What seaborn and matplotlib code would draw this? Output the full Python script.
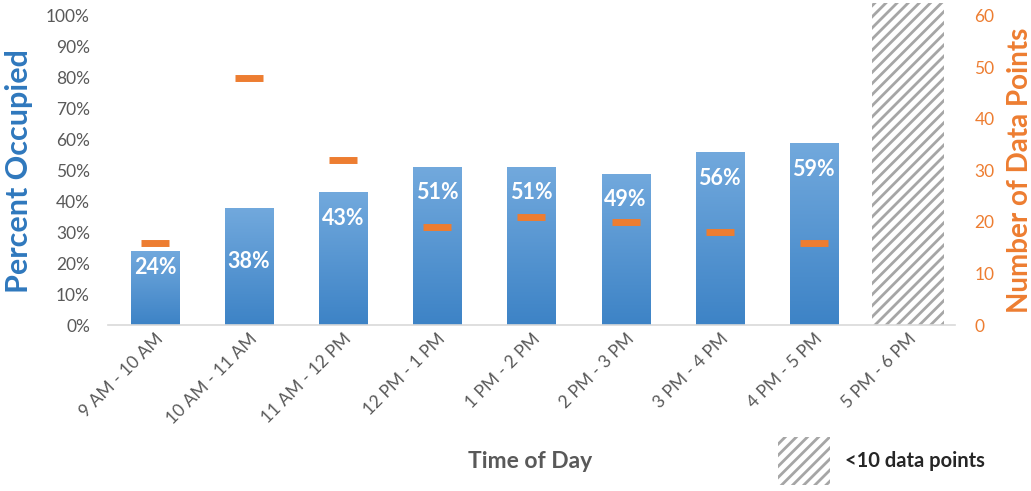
import numpy as np
import pandas as pd
import matplotlib
matplotlib.use("Agg")
import matplotlib.pyplot as plt
from matplotlib.patches import Patch
from matplotlib.colors import LinearSegmentedColormap
import seaborn as sns

# ---- data -------------------------------------------------------------
time_slots = ["9 AM - 10 AM", "10 AM - 11 AM", "11 AM - 12 PM", "12 PM - 1 PM",
              "1 PM - 2 PM", "2 PM - 3 PM", "3 PM - 4 PM", "4 PM - 5 PM",
              "5 PM - 6 PM"]
pct_occupied = [0.24, 0.38, 0.43, 0.51, 0.51, 0.49, 0.56, 0.59]   # last slot has too few samples
data_points = [16, 48, 32, 19, 21, 20, 18, 16]
pct_ticks = [0.0, 0.1, 0.2, 0.3, 0.4, 0.5, 0.6, 0.7, 0.8, 0.9, 1.0]
count_ticks = [0, 10, 20, 30, 40, 50, 60]

# ---- style ------------------------------------------------------------
sns.set_theme(style="white")
plt.rcParams["font.family"] = ["Lato", "DejaVu Sans"]
plt.rcParams["hatch.linewidth"] = 2.0

BLUE_TOP = "#72A9DD"
BLUE_BOTTOM = "#3D83C6"
BLUE_LABEL = "#2F78BD"
ORANGE = "#ED7D31"
GREY_TEXT = "#595959"
HATCH_GREY = "#A6A6A6"

PCT_TOP = 1.042
COUNT_TOP = 62.5
BAR_WIDTH = 0.51
SPARSE_WIDTH = 0.77

fig = plt.figure(figsize=(10.31, 4.91), dpi=100)
ax = fig.add_axes([0.1047, 0.338, 0.8216, 0.6561])

# Bars: measured slots plus a full-height hatched placeholder for the sparse slot
n_measured = len(pct_occupied)
bar_heights = pct_occupied + [PCT_TOP] * (len(time_slots) - n_measured)
df = pd.DataFrame({"slot": time_slots, "occupied": bar_heights})
sns.barplot(data=df, x="slot", y="occupied", ax=ax, width=BAR_WIDTH,
            color=BLUE_BOTTOM, saturation=1, linewidth=0)

cmap = LinearSegmentedColormap.from_list("bar_grad", [BLUE_BOTTOM, BLUE_TOP])
grad = np.linspace(0, 1, 256).reshape(-1, 1)
bars = ax.patches[:len(time_slots)]
for i, bar in enumerate(bars):
    if i < n_measured:
        x0, w, h = bar.get_x(), bar.get_width(), bar.get_height()
        im = ax.imshow(grad, cmap=cmap, origin="lower", aspect="auto",
                       extent=[x0, x0 + w, 0, h], zorder=bar.get_zorder() + 0.1,
                       interpolation="bilinear")
        im.set_clip_path(bar)
    else:
        centre = bar.get_x() + bar.get_width() / 2
        bar.set_x(centre - SPARSE_WIDTH / 2)
        bar.set_width(SPARSE_WIDTH)
        bar.set_facecolor("white")
        bar.set_edgecolor(HATCH_GREY)
        bar.set_hatch("///")
        bar.set_linewidth(0)

# Value labels inside the bars (offset below the bar top, in points)
label_drop = [12, 39, 19, 18, 18, 19, 19, 19]
for i, v in enumerate(pct_occupied):
    ax.annotate(f"{v:.0%}", xy=(i, v), xytext=(0, -label_drop[i]),
                textcoords="offset points", ha="center", va="center",
                color="white", fontsize=15.5, fontweight="bold", zorder=5)

ax.set_xlim(-0.5, len(time_slots) - 0.5)
ax.set_ylim(0, PCT_TOP)
ax.set_yticks(pct_ticks)
ax.set_yticklabels([f"{t:.0%}" for t in pct_ticks])
ax.tick_params(axis="y", length=0, pad=13, labelsize=12.5, labelcolor=GREY_TEXT)
ax.tick_params(axis="x", length=0, pad=4, labelsize=12.5, labelcolor=GREY_TEXT)
plt.setp(ax.get_xticklabels(), rotation=45, ha="right", rotation_mode="anchor")

for side in ["top", "left", "right"]:
    ax.spines[side].set_visible(False)
ax.spines["bottom"].set_color("#D9D9D9")
ax.spines["bottom"].set_linewidth(1.2)

ax.set_ylabel("Percent Occupied", fontsize=22, fontweight="bold", color=BLUE_LABEL)
ax.yaxis.set_label_coords(-0.088, 0.478)
ax.set_xlabel("Time of Day", fontsize=16.5, fontweight="bold", color=GREY_TEXT)
ax.xaxis.set_label_coords(0.498, -0.39)

# Number of data points on the secondary axis
ax2 = ax.twinx()
sns.scatterplot(x=np.arange(len(data_points)), y=data_points, ax=ax2,
                marker="_", s=400, linewidth=5, color=ORANGE, zorder=6)
ax2.set_xlim(-0.5, len(time_slots) - 0.5)
ax2.set_ylim(0, COUNT_TOP)
ax2.set_yticks(count_ticks)
ax2.tick_params(axis="y", length=0, pad=14, labelsize=12.5, labelcolor=ORANGE)
for side in ["top", "left", "right", "bottom"]:
    ax2.spines[side].set_visible(False)
ax2.set_ylabel("Number of Data Points", fontsize=20, fontweight="bold", color=ORANGE)
ax2.yaxis.set_label_coords(1.061, 0.481)
ax2.grid(False)
ax.grid(False)

# Legend for the hatched placeholder
handle = Patch(facecolor="white", edgecolor=HATCH_GREY, hatch="///", linewidth=0)
ax.legend([handle], ["<10 data points"], loc="center left",
          bbox_to_anchor=(778 / 1031, 1 - 461 / 491), bbox_transform=fig.transFigure,
          frameon=False, borderpad=0, borderaxespad=0, handlelength=2.58,
          handleheight=3.29, handletextpad=0.75,
          prop={"size": 14.5, "weight": "bold"})

fig.savefig("out.png", dpi=100)
